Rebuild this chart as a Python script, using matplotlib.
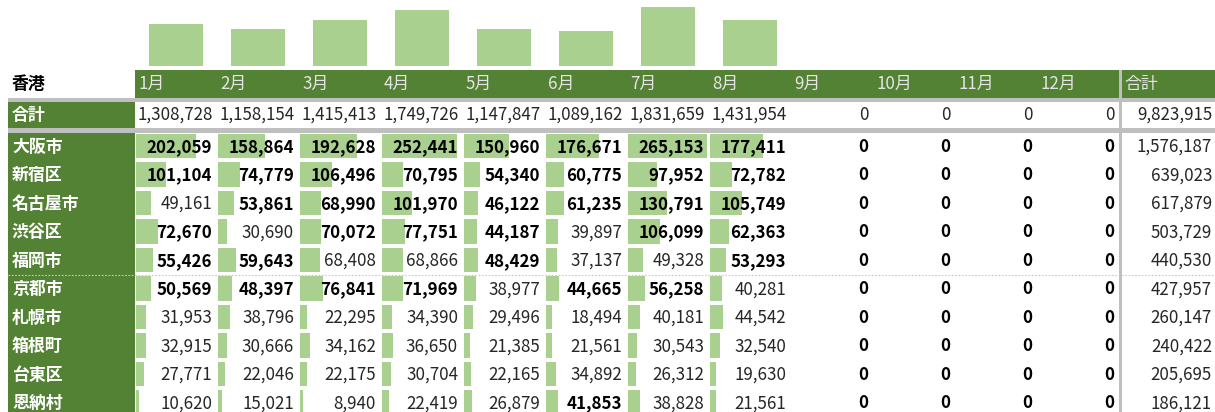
import numpy as np
import matplotlib.pyplot as plt
from matplotlib.patches import Rectangle

plt.rcParams['font.family'] = ['Noto Sans CJK JP', 'DejaVu Sans']

# data
corner_label = '香港'
total_label = '合計'
months = ['1月', '2月', '3月', '4月', '5月', '6月', '7月', '8月', '9月', '10月', '11月', '12月']
month_totals = [1308728, 1158154, 1415413, 1749726, 1147847, 1089162, 1831659, 1431954, 0, 0, 0, 0]
grand_total = 9823915

regions = ['大阪市', '新宿区', '名古屋市', '渋谷区', '福岡市', '京都市', '札幌市', '箱根町', '台東区', '恩納村']
osaka = [202059, 158864, 192628, 252441, 150960, 176671, 265153, 177411, 0, 0, 0, 0]
shinjuku = [101104, 74779, 106496, 70795, 54340, 60775, 97952, 72782, 0, 0, 0, 0]
nagoya = [49161, 53861, 68990, 101970, 46122, 61235, 130791, 105749, 0, 0, 0, 0]
shibuya = [72670, 30690, 70072, 77751, 44187, 39897, 106099, 62363, 0, 0, 0, 0]
fukuoka = [55426, 59643, 68408, 68866, 48429, 37137, 49328, 53293, 0, 0, 0, 0]
kyoto = [50569, 48397, 76841, 71969, 38977, 44665, 56258, 40281, 0, 0, 0, 0]
sapporo = [31953, 38796, 22295, 34390, 29496, 18494, 40181, 44542, 0, 0, 0, 0]
hakone = [32915, 30666, 34162, 36650, 21385, 21561, 30543, 32540, 0, 0, 0, 0]
taito = [27771, 22046, 22175, 30704, 22165, 34892, 26312, 19630, 0, 0, 0, 0]
onna = [10620, 15021, 8940, 22419, 26879, 41853, 38828, 21561, 0, 0, 0, 0]

values = np.array([osaka, shinjuku, nagoya, shibuya, fukuoka,
                   kyoto, sapporo, hakone, taito, onna])
row_totals = values.sum(axis=1)

# colours
GREEN = '#548235'
LIGHT = '#A9D08E'
GRAY = '#BFBFBF'
HEAD_TXT = '#E4E4E4'
TXT = '#262626'

# layout in pixels
W, H = 1215, 412
lab_x0, col_x0, col_w = 7.5, 135, 82
n_cols = len(months)
sep_x0 = col_x0 + n_cols * col_w
sep_x1 = sep_x0 + 3
head_y0, head_y1 = 70, 98
tot_y0, tot_y1 = 101.7, 128.3
row_y0, row_h = 132.7, 28.5
FS = 12.2

fig = plt.figure(figsize=(W / 100, H / 100), dpi=100)
ax = fig.add_axes([0, 0, 1, 1])
ax.set_xlim(0, W)
ax.set_ylim(H, 0)
ax.axis('off')

# backgrounds
ax.add_patch(Rectangle((col_x0, head_y0), n_cols * col_w, head_y1 - head_y0, color=GREEN, lw=0))
ax.add_patch(Rectangle((sep_x1, head_y0), W - sep_x1, head_y1 - head_y0, color=GREEN, lw=0))
ax.add_patch(Rectangle((lab_x0, tot_y0), col_x0 - lab_x0, H - tot_y0, color=GREEN, lw=0))

# data bars, one scale for the whole matrix
bar_scale = 79 / values.max()
col_left = col_x0 + np.arange(n_cols) * col_w
row_mid = row_y0 + (np.arange(len(regions)) + 0.5) * row_h
for i in range(len(regions)):
    ax.barh(np.full(n_cols, row_mid[i] - 1.2), values[i] * bar_scale, left=col_left + 1,
            height=24.5, color=LIGHT, lw=0)

# grid lines
ax.add_patch(Rectangle((lab_x0, head_y1), W - lab_x0, tot_y0 - head_y1, color=GRAY, lw=0))
ax.add_patch(Rectangle((lab_x0, tot_y1), W - lab_x0, row_y0 - tot_y1, color=GRAY, lw=0))
ax.add_patch(Rectangle((sep_x0, head_y0), sep_x1 - sep_x0, H - head_y0, color=GRAY, lw=0))
ax.plot([lab_x0, W], [row_y0 + 5 * row_h] * 2, color='#C8C8C8', lw=0.8, ls=(0, (1.5, 1.5)))

# texts
ax.text(12, (head_y0 + head_y1) / 2, corner_label, fontsize=FS, fontweight='bold',
        color='black', va='center')
for j, m in enumerate(months):
    ax.text(col_left[j] + 3, (head_y0 + head_y1) / 2, m, fontsize=FS, color=HEAD_TXT, va='center')
ax.text(sep_x1 + 2, (head_y0 + head_y1) / 2, total_label, fontsize=FS, color=HEAD_TXT, va='center')

tot_mid = (tot_y0 + tot_y1) / 2
ax.text(12, tot_mid, total_label, fontsize=FS, fontweight='bold', color='white', va='center')
for j, v in enumerate(month_totals):
    ax.text(col_left[j] + col_w - 4, tot_mid, f'{v:,}', fontsize=FS, color=TXT,
            ha='right', va='center')
ax.text(W - 3, tot_mid, f'{grand_total:,}', fontsize=FS, color=TXT, ha='right', va='center')

# top 5 per month in bold
cutoff = np.sort(values, axis=0)[-5]
for i, name in enumerate(regions):
    ax.text(12, row_mid[i], name, fontsize=FS, fontweight='bold', color='white', va='center')
    for j in range(n_cols):
        v = values[i, j]
        bold = v >= cutoff[j]
        ax.text(col_left[j] + col_w - 5, row_mid[i], f'{v:,}', fontsize=FS,
                fontweight='bold' if bold else 'normal', color='black' if bold else TXT,
                ha='right', va='center')
    ax.text(W - 3, row_mid[i], f'{row_totals[i]:,}', fontsize=FS, color=TXT,
            ha='right', va='center')

# column chart of monthly totals above the header
ax_top = fig.add_axes([col_x0 / W, 1 - 66 / H, n_cols * col_w / W, 66 / H])
ax_top.bar(np.arange(n_cols), month_totals, width=54 / col_w, color=LIGHT, lw=0)
ax_top.set_xlim(-0.5, n_cols - 0.5)
ax_top.set_ylim(0, max(month_totals) * 66 / 59)
ax_top.axis('off')

fig.savefig('out.png', dpi=100)
